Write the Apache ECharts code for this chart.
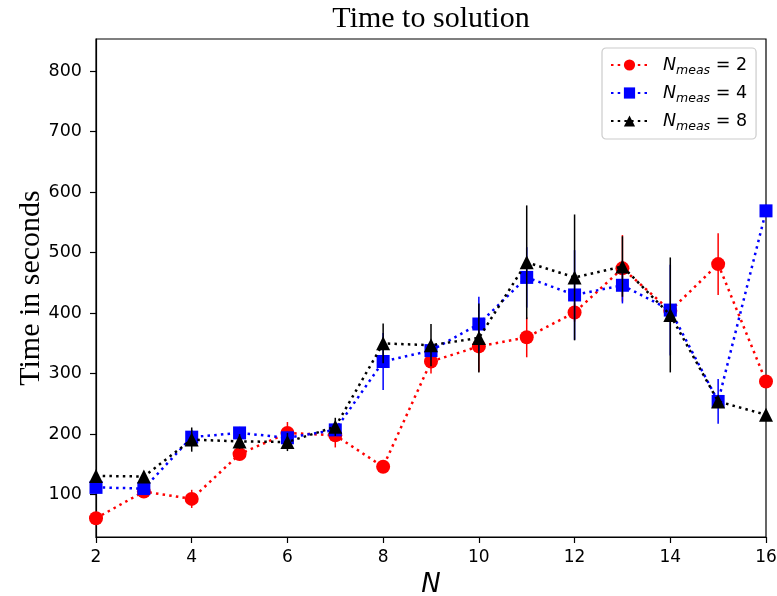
<!DOCTYPE html>
<html>
<head>
<meta charset="utf-8">
<script src="https://cdn.jsdelivr.net/npm/echarts@6/dist/echarts.min.js"></script>
<style>html,body{margin:0;padding:0;background:#fff;}#c{width:777px;height:596px;}</style>
</head>
<body>
<div id="c"></div>
<script>
const Ns = [2, 3, 4, 5, 6, 7, 8, 9, 10, 11, 12, 13, 14, 15, 16];
const yTicks = [100, 200, 300, 400, 500, 600, 700, 800];
const xTicks = [2, 4, 6, 8, 10, 12, 14, 16];

const meas2 = [61, 105, 93, 167, 202, 198, 146, 320, 345, 360, 401, 474, 404, 481, 287];
const err2  = [5, 8, 15, 8, 18, 20, 8, 20, 42, 33, 15, 55, 10, 51, 8];
const meas4 = [112, 110, 195, 202, 194, 207, 320, 338, 382, 459, 430, 446, 405, 254, 569];
const err4  = [6, 6, 12, 10, 10, 10, 47, 15, 45, 50, 74, 30, 75, 37, 10];
const meas8 = [131, 130, 191, 188, 187, 212, 350, 347, 359, 484, 459, 477, 397, 254, 232];
const err8  = [8, 8, 20, 12, 15, 15, 33, 35, 57, 94, 104, 50, 95, 10, 6];

const names = ['meas2', 'meas4', 'meas8'];
const labels = {meas2: '2', meas4: '4', meas8: '8'};

function errSeries(vals, errs, color, z) {
  return {
    type: 'custom', z: z, silent: true, clip: false,
    data: Ns.map((n, i) => [n, vals[i] - errs[i], vals[i] + errs[i]]),
    encode: {x: 0, y: [1, 2]},
    renderItem: function (params, api) {
      const lo = api.coord([api.value(0), api.value(1)]);
      const hi = api.coord([api.value(0), api.value(2)]);
      return {type: 'line', shape: {x1: lo[0], y1: lo[1], x2: hi[0], y2: hi[1]},
              style: {stroke: color, lineWidth: 1.5}};
    }
  };
}
function lineSeries(name, vals, color, symbol, size, z) {
  return {
    type: 'line', name: name, z: z, symbol: symbol, symbolSize: size,
    data: Ns.map((n, i) => [n, vals[i]]),
    itemStyle: {color: color, opacity: 1},
    lineStyle: {color: color, width: 2.5, type: [2.5, 4.2], cap: 'butt'},
    emphasis: {disabled: true}, animation: false, clip: false
  };
}

const chart = echarts.init(document.getElementById('c'), null, {renderer: 'canvas'});
chart.setOption({
  animation: false,
  backgroundColor: '#fff',
  title: {
    text: 'Time to solution', left: 431, top: 4, padding: 0, textAlign: 'center',
    textStyle: {fontFamily: 'Liberation Serif', fontWeight: 'normal', fontSize: 30, color: '#000'}
  },
  grid: {left: 96, right: 11, top: 39, bottom: 59, show: true, borderColor: '#000', borderWidth: 1.2,
         backgroundColor: 'transparent', containLabel: false, outerBoundsMode: 'none'},
  xAxis: {
    type: 'value', min: 2, max: 16, interval: 2,
    name: 'N', nameLocation: 'middle', nameGap: 35, nameMoveOverlap: false,
    nameTextStyle: {fontFamily: 'DejaVu Sans', fontStyle: 'italic', fontSize: 26, color: '#000'},
    axisLine: {show: true, lineStyle: {color: '#000', width: 1.2}},
    axisTick: {show: true, inside: false, length: 6, lineStyle: {color: '#000', width: 1.2}},
    axisLabel: {fontFamily: 'DejaVu Sans', fontSize: 17, color: '#000', margin: 12},
    splitLine: {show: false}
  },
  yAxis: {
    type: 'value', min: 30, max: 853,
    name: 'Time in seconds', nameLocation: 'middle', nameGap: 50, nameRotate: 90, nameMoveOverlap: false,
    nameTextStyle: {fontFamily: 'Liberation Serif', fontSize: 30, color: '#000'},
    axisLine: {show: true, lineStyle: {color: '#000', width: 1.2}},
    axisTick: {show: true, inside: false, length: 6, customValues: yTicks, lineStyle: {color: '#000', width: 1.2}},
    axisLabel: {fontFamily: 'DejaVu Sans', fontSize: 17.5, color: '#000', margin: 14, customValues: yTicks},
    splitLine: {show: false}
  },
  legend: {
    data: names, orient: 'vertical', left: 602, top: 48,
    padding: [8, 9, 6, 8], itemGap: 7, itemWidth: 37, itemHeight: 14,
    backgroundColor: '#fff', borderColor: '#ccc', borderWidth: 1.2, borderRadius: 4,
    formatter: function (name) { return '{n|N}{s|meas}{e| = ' + labels[name] + '}'; },
    textStyle: {
      color: '#000',
      rich: {
        n: {fontFamily: 'DejaVu Sans', fontStyle: 'italic', fontSize: 17.5, lineHeight: 24, padding: [0, 0, 0, 10], color: '#000'},
        s: {fontFamily: 'DejaVu Sans', fontStyle: 'italic', fontSize: 12.5, lineHeight: 17, verticalAlign: 'bottom', color: '#000'},
        e: {fontFamily: 'DejaVu Sans', fontSize: 17.5, lineHeight: 24, color: '#000'}
      }
    }
  },
  series: [
    errSeries(meas2, err2, '#ff0000', 1),
    lineSeries('meas2', meas2, '#ff0000', 'circle', 14, 2),
    errSeries(meas4, err4, '#0000ff', 3),
    lineSeries('meas4', meas4, '#0000ff', 'rect', 13, 4),
    errSeries(meas8, err8, '#000000', 5),
    lineSeries('meas8', meas8, '#000000', 'triangle', 14, 6)
  ]
});
</script>
</body>
</html>
